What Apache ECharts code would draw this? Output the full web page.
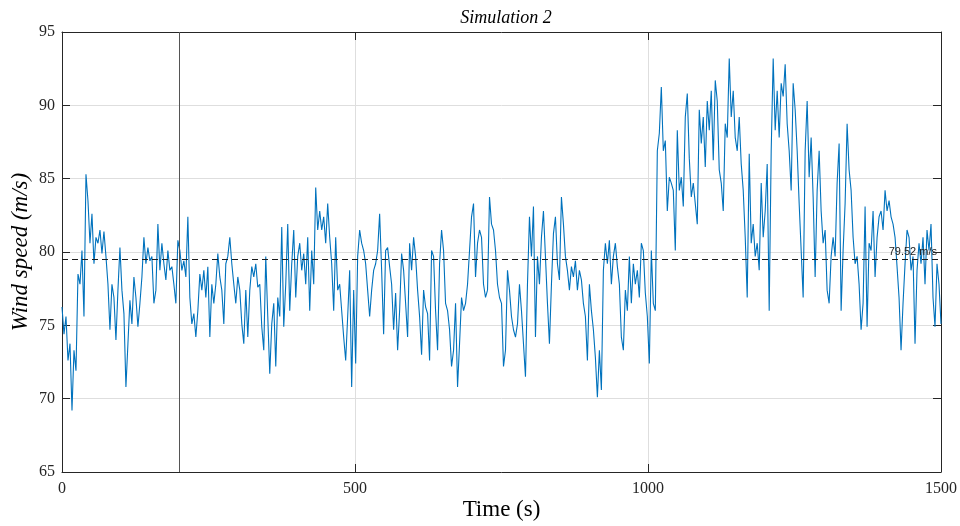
<!DOCTYPE html>
<html>
<head>
<meta charset="utf-8">
<title>Simulation 2</title>
<script src="https://cdn.jsdelivr.net/npm/echarts@6/dist/echarts.min.js"></script>
<style>
  html, body { margin: 0; padding: 0; background: #ffffff; }
  #chart { width: 960px; height: 526px; }
</style>
</head>
<body>
<div id="chart"></div>
<script>
// Wind speed samples (m/s), evenly spaced over the 0–1500 s simulation
const windSpeed = [
  // ~0–185 s
  76.25, 74.4, 75.6, 72.6, 73.75, 69.2, 73.3, 71.9, 78.5, 77.8, 80.1, 75.6, 85.3, 83.5, 80.6, 82.6, 79.2, 81, 80.6, 81.5,
  79.9, 81.4, 79.7, 77.8, 74.7, 77.8, 76.9, 74, 77.4, 80.3, 77.4, 75.8, 70.8, 73.75, 76.7, 75.1, 78.3, 76.9, 74.9, 76.5,
  78.3, 81, 79.2, 80.3, 79.4, 79.7, 76.5, 77.4, 81.9, 78.75, 80.6, 79.2, 78.1, 80.1, 78.75,
  // ~188–372 s
  79, 77.8, 76.5, 80.8, 80.1, 78.75, 79.4, 78.3, 82.4, 76.9, 75.1, 75.8, 74.2, 76, 78.5, 77.4, 78.75, 76.9, 79, 74.2,
  77.8, 76.5, 77.8, 79.9, 78.3, 77.4, 75.1, 79.2, 79.7, 81, 79.2, 77.8, 76.5, 78.3, 77.4, 75.1, 73.75, 77.4, 74.2, 77.4,
  79, 78.3, 79.2, 77.6, 77.8, 74.9, 73.3, 79.7, 75.6, 71.7, 75.1, 76.5, 72.2, 76.9, 75.6,
  // ~375–559 s
  81.7, 74.9, 77.8, 81.9, 76, 79.2, 81.5, 76.9, 79.7, 80.6, 78.75, 79.9, 77.8, 81, 76, 80.1, 77.8, 84.4, 81.5, 82.8,
  81.5, 82.4, 80.6, 83.3, 81, 79.2, 76, 81, 77.4, 77.8, 76, 74.2, 72.6, 75.6, 78.75, 70.8, 77.4, 72.4, 79.7, 81.5,
  80.6, 80.1, 79.2, 77.4, 75.6, 77.4, 78.75, 79.2, 80.1, 82.6, 78.75, 74.4, 80.1, 80.3, 79,
  // ~563–747 s
  77.8, 74.7, 77.2, 73.3, 76, 79.9, 78.75, 76.5, 74.2, 80.6, 78.75, 81, 79.7, 77.4, 75.6, 73, 77.4, 76.25, 75.8, 72.6,
  80.1, 79.7, 76, 73.3, 79.2, 81.5, 80.1, 76.5, 76, 74.7, 72.2, 73.3, 76.5, 70.8, 73.75, 76.9, 76, 76.5, 77.8, 80.1,
  82.4, 83.3, 78.3, 80.6, 81.5, 81, 77.8, 76.9, 77.4, 83.75, 81.9, 81.5, 80.1, 77.8, 76.9,
  // ~750–934 s
  76.5, 72.2, 73.3, 78.75, 77.4, 75.6, 74.7, 74.2, 75.1, 77.8, 76, 73.75, 71.5, 77.8, 82.4, 79.7, 83.1, 74.2, 79.7, 77.8,
  81, 82.8, 79.7, 76.5, 73.75, 77.8, 81.25, 82.4, 79.2, 78.1, 83.75, 81.9, 79.7, 78.75, 77.4, 79, 78.3, 79.4, 77.4, 78.75,
  78.1, 76.5, 75.6, 72.6, 77.8, 76, 74.7, 72.8, 70.1, 73.3, 70.6, 78.75, 80.6, 79.2, 80.8,
  // ~937–1122 s
  77.8, 79.7, 80.6, 79, 77.8, 74.2, 73.3, 77.4, 76, 79.7, 76.5, 79.2, 77.8, 78.75, 76.9, 80.6, 80.1, 77.2, 75.6, 72.4,
  80.1, 76.5, 76, 86.9, 88.1, 91.25, 86.9, 87.6, 82.8, 85.1, 84.7, 84.2, 80.1, 88.3, 84.2, 85.1, 83.1, 89.2, 90.8, 86.4,
  83.75, 84.7, 83.3, 81.9, 89.7, 87.4, 89.2, 85.8, 90.3, 88.3, 91, 86.25, 91.7, 90.3, 85.6,
  // ~1125–1309 s
  84.7, 82.8, 88.75, 87.8, 93.2, 89.2, 91, 87.8, 86.9, 89.2, 86, 84.2, 81, 76.9, 86.7, 80.6, 81.9, 79.7, 80.6, 78.75,
  84.7, 81, 82.8, 86, 76, 86.9, 93.2, 88.3, 91, 87.8, 91.5, 90.6, 92.8, 88.75, 86.9, 84.2, 91.5, 89.7, 86.9, 83.3,
  80.1, 76.9, 86.9, 90.3, 85.1, 87.8, 83.75, 78.3, 84.2, 86.9, 82.8, 80.6, 81.5, 77.4, 76.5,
  // ~1312–1500 s
  79.7, 81, 79.7, 84.7, 87.4, 76, 80.1, 83.3, 88.75, 85.6, 84.2, 81, 79.2, 79.7, 77.8, 74.7, 76.5, 83.1, 74.9, 80.6,
  80.1, 82.8, 78.3, 81, 82.4, 82.8, 81.5, 84.2, 82.8, 83.5, 82.4, 81.9, 81, 79, 76.9, 73.3, 76.5, 79.2, 81.5, 81,
  78.75, 79.7, 73.75, 78.75, 80.6, 79.2, 81, 77.8, 81.5, 80.1, 81.9, 76.9, 74.9, 79.2, 77.8, 75.1
];

const simDuration = 1500;          // s
const meanSpeed = 79.52;           // m/s
const markerTime = 200;            // s
const xTicks = [0, 500, 1000, 1500];
const yTicks = [65, 70, 75, 80, 85, 90, 95];

const step = simDuration / (windSpeed.length - 1);
const seriesData = windSpeed.map((v, i) => [i * step, v]);

const axisColor = '#262626';
const gridColor = '#dedede';
const serif = '"Liberation Serif", "DejaVu Serif", serif';

const chart = echarts.init(document.getElementById('chart'), null, { renderer: 'canvas' });

const xBase = {
  type: 'value',
  min: xTicks[0],
  max: xTicks[xTicks.length - 1],
  interval: xTicks[1] - xTicks[0],
  axisLine: { show: true, onZero: false, lineStyle: { color: axisColor, width: 1 } },
  axisTick: { show: true, inside: true, length: 8, lineStyle: { color: axisColor } }
};
const yBase = {
  type: 'value',
  min: yTicks[0],
  max: yTicks[yTicks.length - 1],
  interval: yTicks[1] - yTicks[0],
  axisLine: { show: true, onZero: false, lineStyle: { color: axisColor, width: 1 } },
  axisTick: { show: true, inside: true, length: 8, lineStyle: { color: axisColor } }
};

chart.setOption({
  animation: false,
  backgroundColor: '#ffffff',
  title: {
    text: 'Simulation 2',
    left: 501, top: 4, textAlign: 'center',
    textStyle: { fontFamily: serif, fontStyle: 'italic', fontWeight: 'normal', fontSize: 18, color: '#000' }
  },
  grid: { left: 62, right: 19, top: 32, bottom: 54, containLabel: false, outerBoundsMode: 'none' },
  xAxis: [
    Object.assign({}, xBase, {
      position: 'bottom',
      name: 'Time (s)',
      nameLocation: 'middle',
      nameGap: 26,
      nameMoveOverlap: false,
      nameTextStyle: { fontFamily: serif, fontSize: 23, color: '#000' },
      axisLabel: {
        show: true, margin: 9, fontFamily: serif, fontSize: 16, color: axisColor,
        formatter: (v) => String(v)
      },
      splitLine: { show: true, lineStyle: { color: gridColor, width: 1 } }
    }),
    Object.assign({}, xBase, {
      position: 'top',
      axisLabel: { show: false },
      splitLine: { show: false }
    })
  ],
  yAxis: [
    Object.assign({}, yBase, {
      position: 'left',
      name: 'Wind speed (m/s)',
      nameLocation: 'middle',
      nameGap: 30,
      nameMoveOverlap: false,
      nameTextStyle: { fontFamily: serif, fontStyle: 'italic', fontSize: 23, color: '#000' },
      axisLabel: {
        show: true, margin: 7, fontFamily: serif, fontSize: 16, color: axisColor,
        formatter: (v) => String(v)
      },
      splitLine: { show: true, lineStyle: { color: gridColor, width: 1 } }
    }),
    Object.assign({}, yBase, {
      position: 'right',
      axisLabel: { show: false },
      splitLine: { show: false }
    })
  ],
  series: [
    {
      type: 'line',
      data: seriesData,
      xAxisIndex: 0,
      yAxisIndex: 0,
      showSymbol: false,
      symbol: 'none',
      lineStyle: { color: '#0072BD', width: 1.1 },
      markLine: {
        silent: true,
        symbol: 'none',
        animation: false,
        data: [
          {
            xAxis: markerTime,
            lineStyle: { color: '#555555', type: 'solid', width: 1 },
            label: { show: false }
          },
          {
            yAxis: meanSpeed,
            lineStyle: { color: '#1a1a1a', type: [6, 4], width: 1 },
            label: {
              show: true,
              position: 'insideEndTop',
              distance: [4, 2],
              formatter: meanSpeed.toFixed(2) + ' m/s',
              fontFamily: '"Liberation Sans", Arial, sans-serif',
              fontSize: 11,
              color: '#222222'
            }
          }
        ]
      }
    }
  ]
});
</script>
</body>
</html>
